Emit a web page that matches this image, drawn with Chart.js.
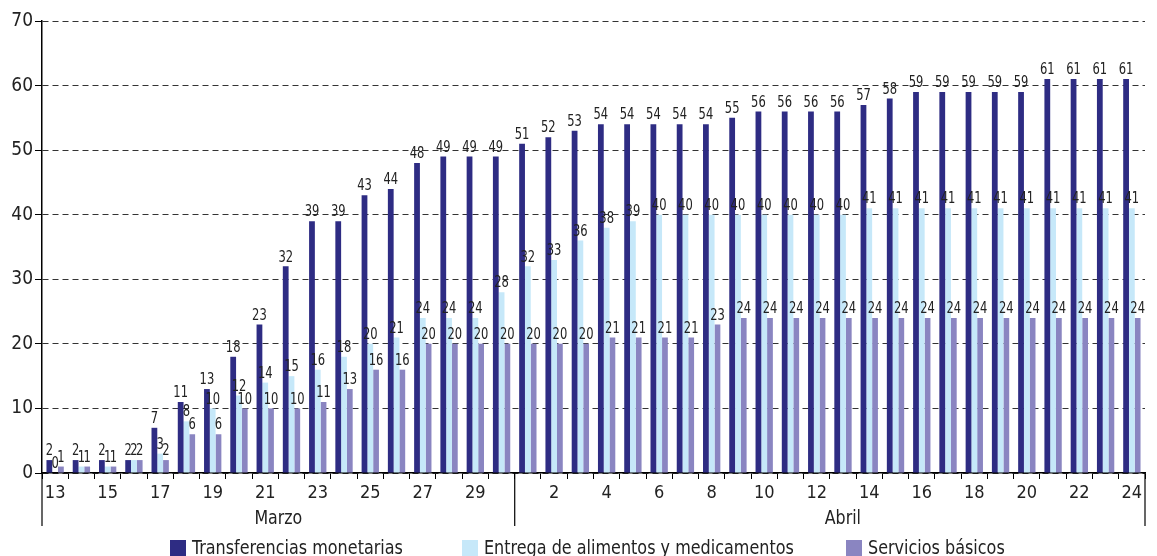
<!DOCTYPE html>
<html>
<head>
<meta charset="utf-8">
<script src="https://cdn.jsdelivr.net/npm/chart.js@4"></script>
<style>
  html, body { margin: 0; padding: 0; background: #fff; }
  #wrap { position: relative; width: 1157px; height: 556px; overflow: hidden; }
  #legend { position: absolute; top: 537px; left: 0; width: 1157px; height: 20px;
    font-family: 'Liberation Sans Narrow', 'DejaVu Sans Condensed', sans-serif; font-size: 20px; color: #222; }
  #legend span.item { position: absolute; top: 0; white-space: nowrap; line-height: 20px; }
  #legend i { display: inline-block; width: 16px; height: 16px; vertical-align: -2px; margin-right: 6px; }
  #legend b { display: inline-block; font-weight: normal; transform: scaleX(0.89); transform-origin: left center; }
</style>
</head>
<body>
<div id="wrap">
  <canvas id="chart" width="1157" height="556"></canvas>
  <div id="legend"></div>
</div>
<script>
var font_family = "'Liberation Sans Narrow', 'DejaVu Sans Condensed', sans-serif";

// dias: 13 a 30 de marzo, 1 a 24 de abril
var days = ['13','14','15','16','17','18','19','20','21','22','23','24','25','26','27','28','29','30',
  '1','2','3','4','5','6','7','8','9','10','11','12','13','14','15','16','17','18','19','20','21','22','23','24'];
var months = ['Marzo','Marzo','Marzo','Marzo','Marzo','Marzo','Marzo','Marzo','Marzo','Marzo','Marzo','Marzo','Marzo','Marzo','Marzo','Marzo','Marzo','Marzo',
  'Abril','Abril','Abril','Abril','Abril','Abril','Abril','Abril','Abril','Abril','Abril','Abril','Abril','Abril','Abril','Abril','Abril','Abril','Abril','Abril','Abril','Abril','Abril','Abril'];

var transferencias = [2,2,2,2,7,11,13,18,23,32,39,39,43,44,48,49,49,49,
  51,52,53,54,54,54,54,54,55,56,56,56,56,57,58,59,59,59,59,59,61,61,61,61];
var alimentos = [0,1,1,2,3,8,10,12,14,15,16,18,20,21,24,24,24,28,
  32,33,36,38,39,40,40,40,40,40,40,40,40,41,41,41,41,41,41,41,41,41,41,41];
var servicios = [1,1,1,2,2,6,6,10,10,10,11,13,16,16,20,20,20,20,
  20,20,20,21,21,21,21,23,24,24,24,24,24,24,24,24,24,24,24,24,24,24,24,24];

var y_ticks = [0,10,20,30,40,50,60,70];

var series_names = ['Transferencias monetarias', 'Entrega de alimentos y medicamentos', 'Servicios básicos'];
var series_colors = ['#2e2c83', '#c6e8f9', '#8a85c1'];

// texto estrecho: la fuente del original es condensada
function narrow_text(ctx, text, x, y, squeeze) {
  ctx.save();
  ctx.translate(x, y);
  ctx.scale(squeeze, 1);
  ctx.fillText(text, 0, 0);
  ctx.restore();
}

// etiquetas encima de cada barra
var bar_labels = {
  id: 'bar_labels',
  afterDatasetsDraw: function (chart) {
    var ctx = chart.ctx;
    ctx.save();
    ctx.font = '16px ' + font_family;
    ctx.fillStyle = '#222';
    ctx.textAlign = 'center';
    ctx.textBaseline = 'bottom';
    chart.data.datasets.forEach(function (ds, i) {
      chart.getDatasetMeta(i).data.forEach(function (bar, j) {
        narrow_text(ctx, String(ds.data[j]), bar.x, bar.y - 1, 0.8);
      });
    });
    ctx.restore();
  }
};

// separadores y nombres de mes bajo el eje
var month_axis = {
  id: 'month_axis',
  afterDraw: function (chart) {
    var ctx = chart.ctx;
    var area = chart.chartArea;
    var x = chart.scales.x;
    var first_abril = months.indexOf('Abril');
    var sep = (x.getPixelForValue(first_abril - 1) + x.getPixelForValue(first_abril)) / 2;
    ctx.save();
    ctx.strokeStyle = '#000';
    ctx.lineWidth = 1.2;
    [area.left, sep, area.right].forEach(function (px) {
      ctx.beginPath();
      ctx.moveTo(px, area.bottom);
      ctx.lineTo(px, area.bottom + 53);
      ctx.stroke();
    });
    ctx.font = '20px ' + font_family;
    ctx.fillStyle = '#222';
    ctx.textAlign = 'center';
    ctx.textBaseline = 'middle';
    narrow_text(ctx, 'Marzo', (area.left + sep) / 2, area.bottom + 46, 0.88);
    narrow_text(ctx, 'Abril', (sep + area.right) / 2 + 13, area.bottom + 46, 0.88);
    ctx.restore();
  }
};

function make_dataset(i, values) {
  return {
    label: series_names[i],
    data: values,
    backgroundColor: series_colors[i],
    borderWidth: 0,
    categoryPercentage: 0.66,
    barPercentage: 1.0
  };
}

new Chart(document.getElementById('chart'), {
  type: 'bar',
  data: {
    labels: days,
    datasets: [
      make_dataset(0, transferencias),
      make_dataset(1, alimentos),
      make_dataset(2, servicios)
    ]
  },
  options: {
    responsive: false,
    animation: false,
    devicePixelRatio: 1,
    layout: { padding: { top: 21, right: 12, left: 0, bottom: 0 } },
    plugins: {
      legend: { display: false },
      tooltip: { enabled: false }
    },
    scales: {
      x: {
        afterFit: function (s) { s.height = 83; },
        grid: {
          display: true,
          offset: true,
          drawOnChartArea: false,
          drawTicks: true,
          tickLength: 6,
          color: '#000',
          tickColor: '#000'
        },
        border: { display: true, color: '#000', width: 1.5 },
        ticks: {
          autoSkip: false,
          maxRotation: 0,
          padding: 4,
          color: '#222',
          font: { family: font_family, size: 18 },
          callback: function (value, index) {
            var d = parseInt(days[index], 10);
            if (months[index] === 'Marzo') return d % 2 === 1 ? days[index] : '';
            return d % 2 === 0 ? days[index] : '';
          }
        }
      },
      y: {
        min: 0,
        max: 70,
        afterFit: function (s) { s.width = 42; },
        afterBuildTicks: function (s) { s.ticks = y_ticks.map(function (v) { return { value: v }; }); },
        grid: {
          color: '#333',
          lineWidth: 1,
          drawTicks: true,
          tickLength: 7,
          tickColor: '#000'
        },
        border: { display: true, color: '#000', width: 1.5, dash: [6, 4] },
        ticks: {
          padding: 2,
          color: '#222',
          font: { family: font_family, size: 19 }
        }
      }
    }
  },
  plugins: [bar_labels, month_axis]
});

// leyenda en HTML
var legend_left = [170, 462, 846];
var legend = document.getElementById('legend');
series_names.forEach(function (name, i) {
  var item = document.createElement('span');
  item.className = 'item';
  item.style.left = legend_left[i] + 'px';
  item.innerHTML = '<i style="background:' + series_colors[i] + '"></i><b>' + name + '</b>';
  legend.appendChild(item);
});
</script>
</body>
</html>
